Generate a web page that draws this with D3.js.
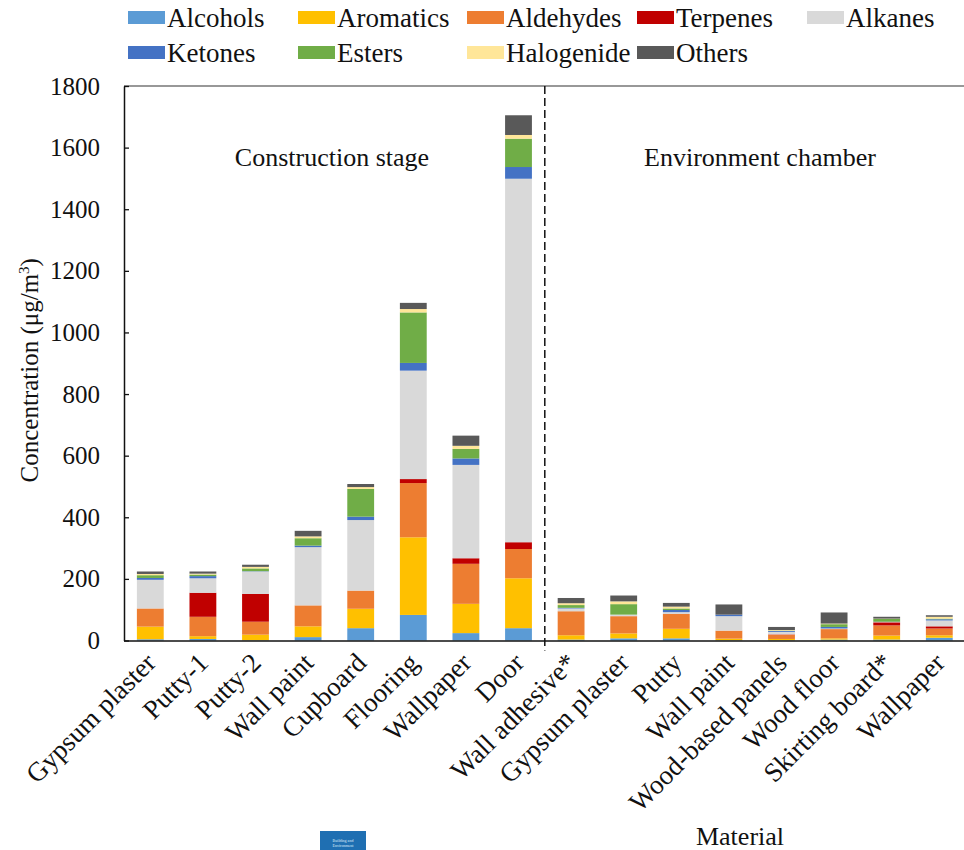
<!DOCTYPE html>
<html>
<head>
<meta charset="utf-8">
<script src="https://cdn.jsdelivr.net/npm/d3@7"></script>
<style>
  html, body { margin: 0; padding: 0; background: #fff; }
  svg text { font-family: "Liberation Serif", "Times New Roman", serif !important; fill: #111; }
</style>
</head>
<body>
<svg id="chart" width="964" height="850"></svg>
<script>
// Materials (construction stage first, then environment chamber)
const categories = [
  "Gypsum plaster", "Putty-1", "Putty-2", "Wall paint", "Cupboard", "Flooring", "Wallpaper", "Door",
  "Wall adhesive*", "Gypsum plaster", "Putty", "Wall paint", "Wood-based panels", "Wood floor", "Skirting board*", "Wallpaper"
];

// VOC group concentrations (µg/m3) per material
const alcohols   = [4, 5, 1, 11, 40, 83, 24, 40,    3, 7, 7, 1, 1, 3, 3, 9];
const aromatics  = [41, 9, 18, 35, 63, 252, 95, 162, 14, 16, 31, 5, 4, 4, 13, 8];
const aldehydes  = [59, 63, 42, 68, 59, 176, 130, 95, 78, 56, 48, 26, 14, 30, 33, 22];
const terpenes   = [0, 78, 90, 0, 0, 13, 18, 22,    0, 0, 0, 0, 1, 0, 10, 7];
const alkanes    = [93, 47, 73, 189, 229, 352, 303, 1180, 9, 5, 6, 47, 8, 2, 1, 19];
const ketones    = [6, 7, 1, 5, 11, 25, 21, 38,     2, 0, 7, 5, 3, 5, 1, 4];
const esters     = [9, 5, 9, 24, 90, 164, 31, 92,   9, 34, 5, 0, 1, 9, 9, 2];
const halogenide = [4, 3, 5, 6, 6, 11, 10, 12,      6, 9, 6, 0, 2, 2, 1, 6];
const others     = [8, 7, 7, 18, 10, 20, 33, 64,    17, 19, 12, 33, 10, 36, 6, 5];

const seriesNames = ["Alcohols", "Aromatics", "Aldehydes", "Terpenes", "Alkanes", "Ketones", "Esters", "Halogenide", "Others"];
const seriesValues = [alcohols, aromatics, aldehydes, terpenes, alkanes, ketones, esters, halogenide, others];
const seriesColors = ["#5B9BD5", "#FFC000", "#ED7D31", "#C00000", "#D9D9D9", "#4472C4", "#70AD47", "#FFE699", "#595959"];

const yTicks = [0, 200, 400, 600, 800, 1000, 1200, 1400, 1600, 1800];
const groupLabels = ["Construction stage", "Environment chamber"];

// Layout
const plotLeft = 124, plotTop = 86, plotBottom = 640.5, bandW = 52.6;
const plotRight = plotLeft + bandW * categories.length;

const svg = d3.select("#chart");

const rows = categories.map((c, i) => {
  const r = { key: i, name: c };
  seriesNames.forEach((s, j) => { r[s] = seriesValues[j][i]; });
  return r;
});

const x = d3.scaleBand().domain(d3.range(categories.length)).range([plotLeft, plotRight]).paddingInner(0.49).paddingOuter(0.245);
const y = d3.scaleLinear().domain([0, 1800]).range([plotBottom, plotTop]);
const color = d3.scaleOrdinal().domain(seriesNames).range(seriesColors);

const stacked = d3.stack().keys(seriesNames)(rows);

// Stacked bars
svg.append("g").selectAll("g")
  .data(stacked)
  .join("g")
  .attr("fill", d => color(d.key))
  .selectAll("rect")
  .data(d => d)
  .join("rect")
  .attr("x", d => x(d.data.key))
  .attr("width", x.bandwidth())
  .attr("y", d => y(d[1]))
  .attr("height", d => Math.max(0, y(d[0]) - y(d[1])));

// Top frame line
svg.append("line")
  .attr("x1", plotLeft).attr("x2", 964).attr("y1", plotTop).attr("y2", plotTop)
  .attr("stroke", "#333").attr("stroke-width", 1.2);

// Y axis with inward ticks
const yAxis = svg.append("g")
  .attr("transform", `translate(${plotLeft},0)`)
  .call(d3.axisLeft(y).tickValues(yTicks).tickFormat(d3.format("d")).tickSizeInner(-5).tickSizeOuter(0).tickPadding(24));
yAxis.select(".domain").attr("stroke", "#111").attr("stroke-width", 1.5);
yAxis.selectAll(".tick line").attr("stroke", "#111").attr("stroke-width", 1.3);
yAxis.selectAll(".tick text").attr("font-size", 25).attr("fill", "#111");

// X axis line
svg.append("line")
  .attr("x1", plotLeft).attr("x2", 964).attr("y1", plotBottom + 0.5).attr("y2", plotBottom + 0.5)
  .attr("stroke", "#111").attr("stroke-width", 1.6);

// Category labels, rotated
svg.append("g").selectAll("text")
  .data(rows)
  .join("text")
  .attr("transform", d => `translate(${x(d.key) + x.bandwidth() / 2 + 7},${plotBottom + 24}) rotate(-45)`)
  .attr("text-anchor", "end")
  .attr("font-size", 27)
  .text(d => d.name);

// Divider between the two groups
const divX = (x(7) + x.bandwidth() + x(8)) / 2;
svg.append("line")
  .attr("x1", divX).attr("x2", divX).attr("y1", plotTop).attr("y2", plotBottom + 10)
  .attr("stroke", "#111").attr("stroke-width", 1.5).attr("stroke-dasharray", "8,4");

// Group annotations
svg.append("text").attr("x", 332).attr("y", 166).attr("text-anchor", "middle").attr("font-size", 26).text(groupLabels[0]);
svg.append("text").attr("x", 760).attr("y", 166).attr("text-anchor", "middle").attr("font-size", 26).text(groupLabels[1]);

// Axis titles
svg.append("text")
  .attr("transform", `translate(38,${(plotTop + plotBottom) / 2 + 7}) rotate(-90)`)
  .attr("text-anchor", "middle")
  .attr("font-size", 25)
  .html('Concentration (μg/m<tspan dy="-9" font-size="15">3</tspan><tspan dy="9">)</tspan>');

svg.append("text").attr("x", 740).attr("y", 845).attr("text-anchor", "middle").attr("font-size", 26).text("Material");

// Journal badge
const badge = svg.append("g").attr("transform", "translate(320,831)");
badge.append("rect").attr("width", 46).attr("height", 19).attr("fill", "#1f6fb2");
badge.append("text").attr("x", 23).attr("y", 11).attr("text-anchor", "middle").attr("font-size", 4).style("fill", "#dfeefa").text("Building and");
badge.append("text").attr("x", 23).attr("y", 16).attr("text-anchor", "middle").attr("font-size", 4).style("fill", "#dfeefa").text("Environment");

// Legend
const legendCols = [128, 298, 467, 637, 807];
const legend = svg.append("g").selectAll("g")
  .data(seriesNames)
  .join("g")
  .attr("transform", (d, i) => `translate(${legendCols[i % 5]},${i < 5 ? 18 : 53})`);
legend.append("rect").attr("x", 0).attr("y", -7).attr("width", 37).attr("height", 13).attr("fill", d => color(d));
legend.append("text").attr("x", 39).attr("y", 9).attr("font-size", 27).text(d => d);
</script>
</body>
</html>
